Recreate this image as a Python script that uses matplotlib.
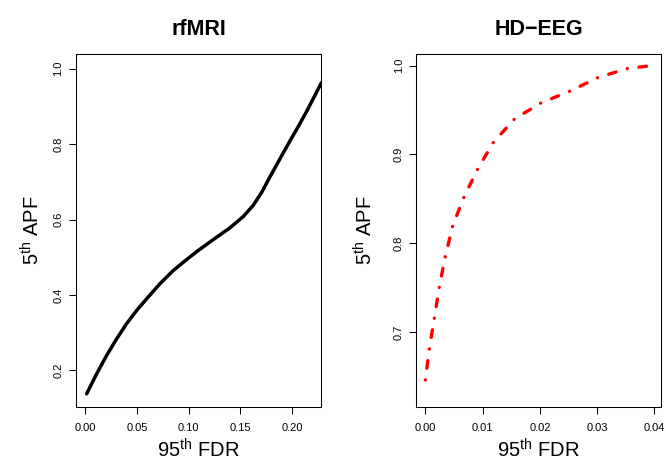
import matplotlib.pyplot as plt

# Шрифт, похожий на Helvetica из R
plt.rcParams['font.family'] = ['Liberation Sans', 'DejaVu Sans']
plt.rcParams['mathtext.fontset'] = 'custom'
plt.rcParams['mathtext.rm'] = 'Liberation Sans'
plt.rcParams['mathtext.it'] = 'Liberation Sans:italic'
plt.rcParams['mathtext.bf'] = 'Liberation Sans:bold'

# Данные rfMRI (чёрная кривая)
fdr_mri = [0.0013, 0.011, 0.0207, 0.0304, 0.040, 0.0497, 0.0594, 0.0723,
           0.0852, 0.0981, 0.1093, 0.1239, 0.140, 0.1529, 0.1626, 0.1707,
           0.1787, 0.188, 0.198, 0.206, 0.2143, 0.2286]
apf_mri = [0.138, 0.191, 0.240, 0.284, 0.324, 0.359, 0.390, 0.430,
           0.465, 0.494, 0.518, 0.547, 0.578, 0.608, 0.638, 0.672,
           0.713, 0.759, 0.808, 0.846, 0.887, 0.963]

# Данные HD-EEG (красная штрих-пунктирная кривая)
fdr_eeg = [0.0, 0.0007, 0.00157, 0.00244, 0.00349, 0.00477, 0.00675, 0.00914,
           0.01193, 0.0156, 0.0202, 0.0253, 0.0302, 0.0354, 0.0391]
apf_eeg = [0.646, 0.681, 0.7153, 0.7507, 0.785, 0.8194, 0.852, 0.8836,
           0.914, 0.940, 0.958, 0.9714, 0.9867, 0.9969, 0.9996]

# Подписи осей и заголовки
titles = ['rfMRI', 'HD\u2212EEG']
xlabel = '95$^{\\mathrm{th}}$ FDR'
ylabel = '5$^{\\mathrm{th}}$ APF'
xticks_mri = [0.00, 0.05, 0.10, 0.15, 0.20]
yticks_mri = [0.2, 0.4, 0.6, 0.8, 1.0]
xticks_eeg = [0.00, 0.01, 0.02, 0.03, 0.04]
yticks_eeg = [0.7, 0.8, 0.9, 1.0]

fig = plt.figure(figsize=(6.66, 4.62), dpi=100)
ax1 = fig.add_axes([0.1141, 0.119, 0.3686, 0.765])
ax2 = fig.add_axes([0.6251, 0.119, 0.3679, 0.765])

ax1.plot(fdr_mri, apf_mri, color='black', lw=2.5,
         solid_capstyle='round', solid_joinstyle='round')
ax2.plot(fdr_eeg, apf_eeg, color='red', lw=2.4,
         linestyle=(0, (0.05, 3.5, 2.3, 3.5)), dash_capstyle='round')

ax1.set_xlim(-0.009, 0.2286)
ax1.set_ylim(0.103, 1.04)
ax2.set_xlim(-0.00157, 0.0412)
ax2.set_ylim(0.6155, 1.0135)

ax1.set_xticks(xticks_mri)
ax1.set_xticklabels(['%.2f' % v for v in xticks_mri])
ax1.set_yticks(yticks_mri)
ax1.set_yticklabels(['%.1f' % v for v in yticks_mri])
ax2.set_xticks(xticks_eeg)
ax2.set_xticklabels(['%.2f' % v for v in xticks_eeg])
ax2.set_yticks(yticks_eeg)
ax2.set_yticklabels(['%.1f' % v for v in yticks_eeg])

for ax, title, ylab_x in zip([ax1, ax2], titles, [-0.147, -0.177]):
    ax.set_title(title, fontsize=15.5, fontweight='bold', y=1.052, pad=0)
    ax.tick_params(direction='out', length=5, width=0.75, labelsize=8)
    ax.tick_params(axis='x', pad=6.7)
    ax.tick_params(axis='y', pad=4)
    for lbl in ax.get_yticklabels():
        lbl.set_rotation(90)
        lbl.set_va('center')
    for s in ax.spines.values():
        s.set_linewidth(0.75)
    ax.set_xlabel(xlabel, fontsize=14.5)
    ax.xaxis.label.set_va('baseline')
    ax.xaxis.set_label_coords(0.5, -0.1423)
    ax.set_ylabel(ylabel, fontsize=14.5)
    ax.yaxis.label.set_va('baseline')
    ax.yaxis.set_label_coords(ylab_x, 0.5)

plt.savefig('out.png', dpi=100)
